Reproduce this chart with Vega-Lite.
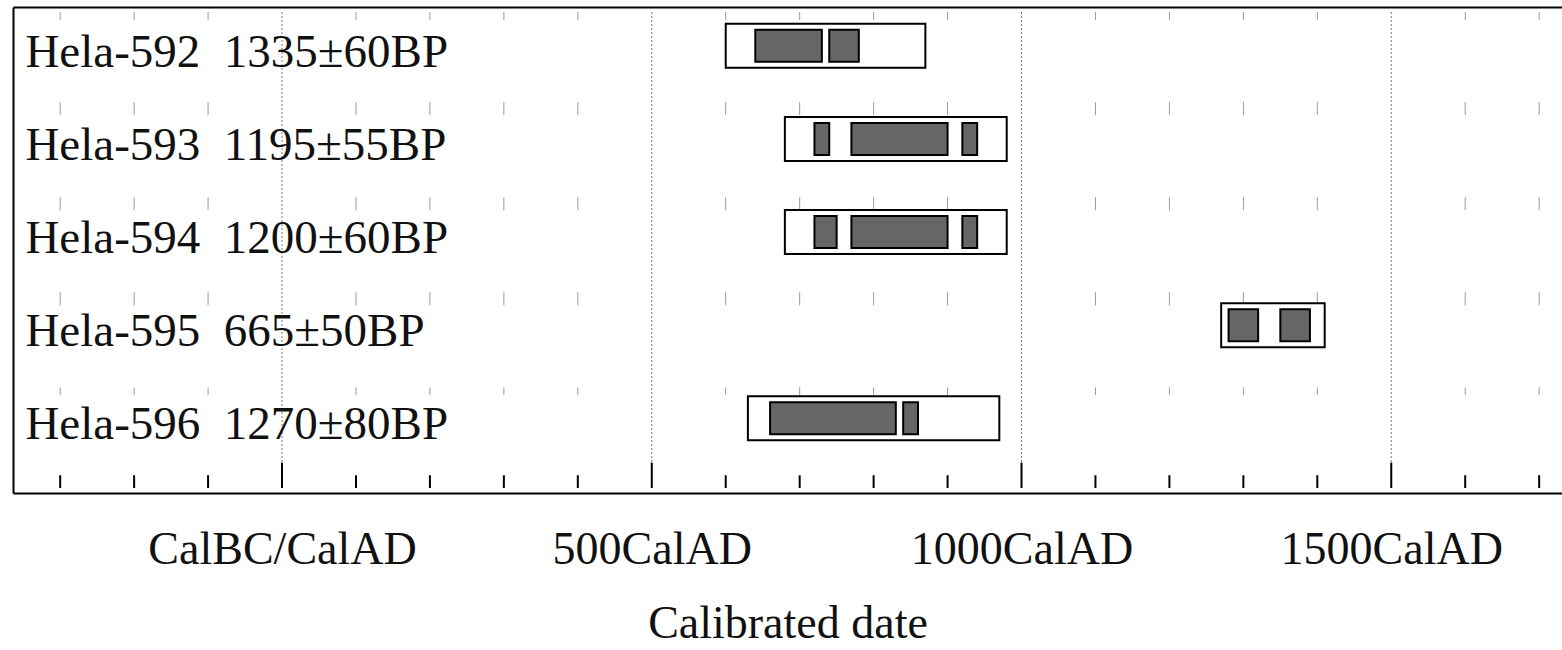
{
  "$schema": "https://vega.github.io/schema/vega-lite/v6.json",
  "width": 1549,
  "height": 486,
  "autosize": {"type": "none"},
  "padding": {"left": 13, "top": 7, "right": 0, "bottom": 157},
  "background": "white",
  "config": {"view": {"stroke": null}, "font": "Liberation Serif"},
  "datasets": {
    "samples": [
      {"row": 0, "label": "Hela-592 \u00a01335±60BP", "from": 600, "to": 870},
      {"row": 1, "label": "Hela-593 \u00a01195±55BP", "from": 680, "to": 980},
      {"row": 2, "label": "Hela-594 \u00a01200±60BP", "from": 680, "to": 980},
      {"row": 3, "label": "Hela-595 \u00a0665±50BP", "from": 1270, "to": 1410},
      {"row": 4, "label": "Hela-596 \u00a01270±80BP", "from": 630, "to": 970}
    ],
    "ranges": [
      {"row": 0, "from": 640, "to": 730},
      {"row": 0, "from": 740, "to": 780},
      {"row": 1, "from": 720, "to": 740},
      {"row": 1, "from": 770, "to": 900},
      {"row": 1, "from": 920, "to": 940},
      {"row": 2, "from": 720, "to": 750},
      {"row": 2, "from": 770, "to": 900},
      {"row": 2, "from": 920, "to": 940},
      {"row": 3, "from": 1280, "to": 1320},
      {"row": 3, "from": 1350, "to": 1390},
      {"row": 4, "from": 660, "to": 830},
      {"row": 4, "from": 840, "to": 860}
    ],
    "minorYears": [
      {"year": -300}, {"year": -200}, {"year": -100}, {"year": 100}, {"year": 200},
      {"year": 300}, {"year": 400}, {"year": 600}, {"year": 700}, {"year": 800},
      {"year": 900}, {"year": 1100}, {"year": 1200}, {"year": 1300}, {"year": 1400},
      {"year": 1600}, {"year": 1700}
    ],
    "majorYears": [{"year": 0}, {"year": 500}, {"year": 1000}, {"year": 1500}]
  },
  "resolve": {"axis": {"x": "independent", "y": "independent"}},
  "layer": [
    {
      "data": {"name": "minorYears"},
      "mark": {"type": "rule", "color": "#9a9a9a", "strokeWidth": 1, "strokeDash": [13, 82.1], "strokeDashOffset": 5},
      "encoding": {
        "x": {
          "field": "year", "type": "quantitative",
          "scale": {"domain": [-363.8, 1730.9], "nice": false, "zero": false},
          "axis": {
            "orient": "bottom", "values": [0, 500, 1000, 1500],
            "labelExpr": "datum.value == 0 ? 'CalBC/CalAD' : datum.value + 'CalAD'",
            "ticks": false, "tickSize": 0, "labelPadding": 70, "labelBaseline": "alphabetic",
            "labelFont": "Liberation Serif", "labelFontSize": 46, "labelColor": "#111",
            "labelFlush": false, "labelOverlap": false, "labelLimit": 0,
            "domain": true, "domainColor": "#000", "domainWidth": 2, "grid": false,
            "title": "Calibrated date", "titleFont": "Liberation Serif", "titleFontSize": 46,
            "titleFontWeight": "normal", "titleColor": "#111", "titlePadding": 29, "titleLimit": 0
          }
        },
        "y": {
          "datum": -0.363, "type": "quantitative",
          "scale": {"domain": [-0.363, 4.748], "reverse": true, "nice": false, "zero": false},
          "axis": {"orient": "left", "domain": true, "domainColor": "#000", "domainWidth": 2, "ticks": false, "labels": false, "grid": false, "title": null}
        },
        "y2": {"datum": 3.75}
      }
    },
    {
      "data": {"name": "majorYears"},
      "mark": {"type": "rule", "color": "#7a7a7a", "strokeWidth": 1, "strokeDash": [2, 2]},
      "encoding": {
        "x": {
          "field": "year", "type": "quantitative",
          "scale": {"domain": [-363.8, 1730.9], "nice": false, "zero": false},
          "axis": {"orient": "top", "domain": true, "domainColor": "#000", "domainWidth": 2, "ticks": false, "labels": false, "grid": false, "title": null}
        },
        "y": {"datum": -0.363, "type": "quantitative", "axis": null},
        "y2": {"datum": 4.748}
      }
    },
    {
      "data": {"name": "minorYears"},
      "mark": {"type": "rule", "color": "#000", "strokeWidth": 2},
      "encoding": {
        "x": {"field": "year", "type": "quantitative", "axis": null},
        "y": {"datum": 4.748, "type": "quantitative", "axis": null},
        "y2": {"datum": 4.611}
      }
    },
    {
      "data": {"name": "majorYears"},
      "mark": {"type": "rule", "color": "#000", "strokeWidth": 2},
      "encoding": {
        "x": {"field": "year", "type": "quantitative", "axis": null},
        "y": {"datum": 4.748, "type": "quantitative", "axis": null},
        "y2": {"datum": 4.475}
      }
    },
    {
      "data": {"name": "samples"},
      "mark": {"type": "bar", "orient": "horizontal", "height": 44, "fill": "#ffffff", "stroke": "#000", "strokeWidth": 2},
      "encoding": {
        "x": {"field": "from", "type": "quantitative", "axis": null},
        "x2": {"field": "to"},
        "y": {"field": "row", "type": "quantitative", "axis": null}
      }
    },
    {
      "data": {"name": "ranges"},
      "mark": {"type": "bar", "orient": "horizontal", "height": 32, "fill": "#666666", "stroke": "#000", "strokeWidth": 2},
      "encoding": {
        "x": {"field": "from", "type": "quantitative", "axis": null},
        "x2": {"field": "to"},
        "y": {"field": "row", "type": "quantitative", "axis": null}
      }
    },
    {
      "data": {"name": "samples"},
      "mark": {"type": "text", "align": "left", "baseline": "alphabetic", "dy": 21, "font": "Liberation Serif", "fontSize": 47, "color": "#111"},
      "encoding": {
        "x": {"datum": -347, "type": "quantitative", "axis": null},
        "y": {"field": "row", "type": "quantitative", "axis": null},
        "text": {"field": "label"}
      }
    }
  ]
}
